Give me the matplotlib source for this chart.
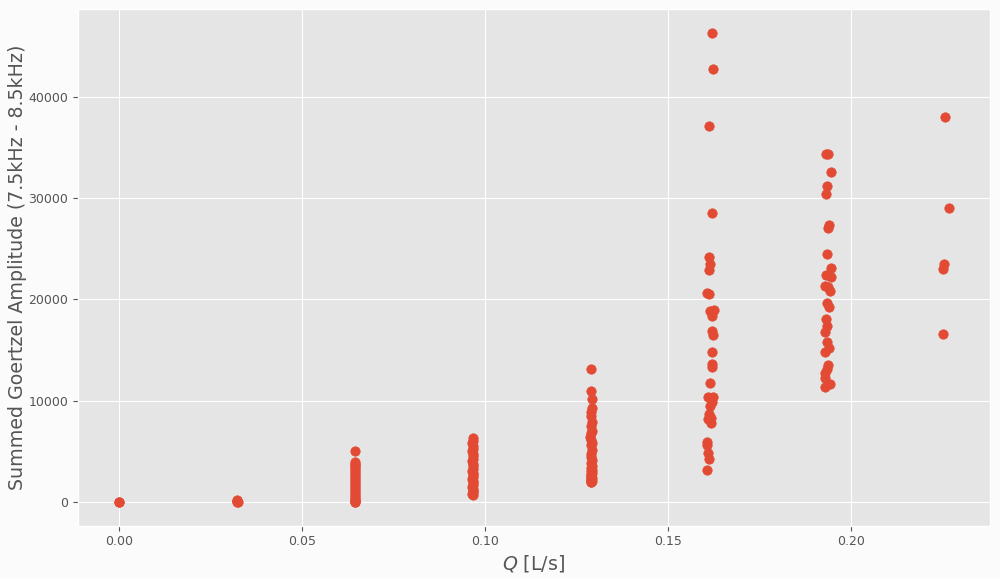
import matplotlib
matplotlib.use("Agg")
import matplotlib.pyplot as plt
import numpy as np

# Flow rate groups (Q in L/s) and summed Goertzel amplitudes
q_0 = [0.0, 0.0]
a_0 = [0, 30]

q_1 = [0.0321, 0.0322, 0.0323, 0.0322, 0.0321]
a_1 = [250, 150, 60, 0, 100]

q_2 = [0.0644] * 25
a_2 = [5050, 3950, 3800, 3650, 3500, 3300, 3100, 2900, 2700, 2500, 2300, 2100,
       1900, 1700, 1500, 1300, 1100, 900, 700, 500, 350, 200, 100, 50, 0]

q_3 = [0.0966, 0.0967, 0.0965, 0.0966, 0.0967, 0.0965, 0.0966, 0.0967, 0.0966,
       0.0965, 0.0966, 0.0967, 0.0966, 0.0965, 0.0966, 0.0967, 0.0966, 0.0965,
       0.0966, 0.0967, 0.0966, 0.0965, 0.0966, 0.0967, 0.0966, 0.0965, 0.0966]
a_3 = [6300, 6050, 5800, 5550, 5300, 5050, 4800, 4550, 4300, 4050, 3800, 3550,
       3300, 3100, 2900, 2700, 2500, 2300, 2100, 1900, 1700, 1500, 1300, 1150,
       1000, 850, 700]

q_4 = [0.1288, 0.1288, 0.1291, 0.1292, 0.1290, 0.1289, 0.1291, 0.1290, 0.1292,
       0.1289, 0.1287, 0.1290, 0.1291, 0.1289, 0.1292, 0.1290, 0.1288, 0.1291,
       0.1289, 0.1292, 0.1290, 0.1288, 0.1291, 0.1289, 0.1290, 0.1292, 0.1288,
       0.1291, 0.1289, 0.1290, 0.1291, 0.1289, 0.1290, 0.1288]
a_4 = [13140, 11000, 10230, 9300, 8900, 8500, 7900, 7550, 7000, 6850, 6400,
       6100, 5800, 5600, 5200, 4800, 4500, 4200, 3900, 3600, 3330, 3100, 2900,
       2700, 2500, 2350, 2200, 2100, 2000, 1960, 3200, 2800, 2400, 2150]

q_5 = [0.1619, 0.1622, 0.1613, 0.1621, 0.1613, 0.1616, 0.1613, 0.1606, 0.1611,
       0.1616, 0.1627, 0.1619, 0.1621, 0.1624, 0.1619, 0.1619, 0.1621, 0.1614,
       0.1608, 0.1622, 0.1619, 0.1614, 0.1611, 0.1610, 0.1618, 0.1618, 0.1607,
       0.1607, 0.1610, 0.1612, 0.1607]
a_5 = [46300, 42680, 37060, 28560, 24190, 23460, 22910, 20660, 20560, 18860,
       18950, 18360, 16930, 16500, 14770, 13630, 13360, 11760, 10360, 10360,
       9870, 9480, 8730, 8240, 8300, 7810, 5950, 5690, 4830, 4250, 3140]

q_6 = [0.1931, 0.1937, 0.1946, 0.1936, 0.1932, 0.1941, 0.1937, 0.1935, 0.1946,
       0.1933, 0.1945, 0.1928, 0.1938, 0.1944, 0.1935, 0.1941, 0.1933, 0.1935,
       0.1930, 0.1934, 0.1941, 0.1928, 0.1938, 0.1935, 0.1928, 0.1928, 0.1944,
       0.1928]
a_6 = [34380, 34380, 32580, 31210, 30430, 27350, 27030, 24480, 23070, 22380,
       22190, 21370, 21240, 20880, 19640, 19280, 18070, 17380, 16760, 15810,
       15260, 14770, 13530, 13140, 12750, 12220, 11700, 11370]

q_7 = [0.2258, 0.2267, 0.2254, 0.2252, 0.2252]
a_7 = [38040, 28990, 23500, 23040, 16640]

q_all = q_0 + q_1 + q_2 + q_3 + q_4 + q_5 + q_6 + q_7
a_all = a_0 + a_1 + a_2 + a_3 + a_4 + a_5 + a_6 + a_7

plt.style.use("ggplot")
fig = plt.figure(figsize=(10, 5.79), dpi=100, facecolor="#fbfbfb")
ax = fig.add_axes([0.078, 0.092, 0.912, 0.892])
ax.scatter(q_all, a_all, s=46, color="#E24A33", zorder=3)
ax.set_xlabel(r"$Q$ [L/s]", fontsize=13.7, labelpad=3)
ax.set_ylabel("Summed Goertzel Amplitude (7.5kHz - 8.5kHz)", fontsize=13.7,
              labelpad=1)
ax.tick_params(labelsize=9)
fig.savefig("out.png", dpi=100, facecolor=fig.get_facecolor())
